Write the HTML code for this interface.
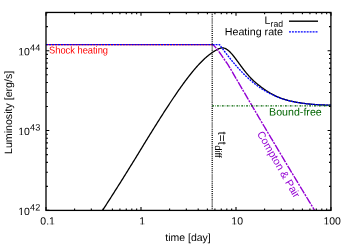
<!DOCTYPE html>
<html><head><meta charset="utf-8"><title>plot</title>
<style>
html,body{margin:0;padding:0;background:#fff;}
svg{display:block;will-change:transform;}
text{font-family:"Liberation Sans",sans-serif;fill:#000;text-rendering:geometricPrecision;}
</style></head><body>
<svg width="350" height="245" viewBox="0 0 350 245">
<rect x="0" y="0" width="350" height="245" fill="#fff"/>
<!-- curves -->
<path d="M102.56,210.40 L103.00,209.66 L103.50,208.89 L104.00,208.12 L104.50,207.34 L105.00,206.57 L105.50,205.80 L106.00,205.03 L106.50,204.25 L107.00,203.48 L107.50,202.71 L108.00,201.94 L108.50,201.17 L109.00,200.39 L109.50,199.62 L110.00,198.85 L110.50,198.06 L111.00,197.27 L111.50,196.48 L112.00,195.69 L112.50,194.90 L113.00,194.11 L113.50,193.32 L114.00,192.53 L114.50,191.75 L115.00,190.96 L115.50,190.17 L116.00,189.38 L116.50,188.59 L117.00,187.80 L117.50,187.02 L118.00,186.23 L118.50,185.44 L119.00,184.65 L119.50,183.86 L120.00,183.08 L120.50,182.29 L121.00,181.50 L121.50,180.72 L122.00,179.93 L122.50,179.12 L123.00,178.31 L123.50,177.50 L124.00,176.70 L124.50,175.89 L125.00,175.08 L125.50,174.27 L126.00,173.47 L126.50,172.66 L127.00,171.85 L127.50,171.05 L128.00,170.24 L128.50,169.43 L129.00,168.63 L129.50,167.82 L130.00,167.02 L130.50,166.21 L131.00,165.41 L131.50,164.60 L132.00,163.80 L132.50,162.99 L133.00,162.19 L133.50,161.39 L134.00,160.59 L134.50,159.78 L135.00,158.98 L135.50,158.16 L136.00,157.33 L136.50,156.51 L137.00,155.69 L137.50,154.86 L138.00,154.04 L138.50,153.22 L139.00,152.40 L139.50,151.58 L140.00,150.75 L140.50,149.93 L141.00,149.12 L141.50,148.30 L142.00,147.48 L142.50,146.66 L143.00,145.84 L143.50,145.02 L144.00,144.21 L144.50,143.39 L145.00,142.58 L145.50,141.76 L146.00,140.95 L146.50,140.13 L147.00,139.32 L147.50,138.51 L148.00,137.70 L148.50,136.89 L149.00,136.08 L149.50,135.27 L150.00,134.46 L150.50,133.65 L151.00,132.84 L151.50,132.04 L152.00,131.23 L152.50,130.43 L153.00,129.63 L153.50,128.82 L154.00,128.02 L154.50,127.22 L155.00,126.42 L155.50,125.62 L156.00,124.82 L156.50,124.03 L157.00,123.23 L157.50,122.44 L158.00,121.64 L158.50,120.85 L159.00,120.06 L159.50,119.27 L160.00,118.48 L160.50,117.69 L161.00,116.91 L161.50,116.12 L162.00,115.34 L162.50,114.55 L163.00,113.77 L163.50,112.99 L164.00,112.21 L164.50,111.44 L165.00,110.66 L165.50,109.89 L166.00,109.12 L166.50,108.35 L167.00,107.58 L167.50,106.81 L168.00,106.05 L168.50,105.28 L169.00,104.52 L169.50,103.76 L170.00,103.00 L170.50,102.25 L171.00,101.49 L171.50,100.74 L172.00,99.99 L172.50,99.24 L173.00,98.50 L173.50,97.75 L174.00,97.01 L174.50,96.27 L175.00,95.54 L175.50,94.80 L176.00,94.07 L176.50,93.34 L177.00,92.62 L177.50,91.90 L178.00,91.17 L178.50,90.46 L179.00,89.74 L179.50,89.03 L180.00,88.32 L180.50,87.61 L181.00,86.91 L181.50,86.21 L182.00,85.51 L182.50,84.82 L183.00,84.13 L183.50,83.44 L184.00,82.76 L184.50,82.08 L185.00,81.40 L185.50,80.73 L186.00,80.06 L186.50,79.40 L187.00,78.74 L187.50,78.08 L188.00,77.43 L188.50,76.78 L189.00,76.14 L189.50,75.50 L190.00,74.86 L190.50,74.23 L191.00,73.61 L191.50,72.99 L192.00,72.37 L192.50,71.76 L193.00,71.15 L193.50,70.55 L194.00,69.95 L194.50,69.36 L195.00,68.78 L195.50,68.20 L196.00,67.62 L196.50,67.05 L197.00,66.49 L197.50,65.93 L198.00,65.38 L198.50,64.83 L199.00,64.29 L199.50,63.76 L200.00,63.23 L200.50,62.71 L201.00,62.20 L201.50,61.69 L202.00,61.19 L202.50,60.70 L203.00,60.21 L203.50,59.73 L204.00,59.26 L204.50,58.79 L205.00,58.33 L205.50,57.88 L206.00,57.44 L206.50,57.00 L207.00,56.57 L207.50,56.15 L208.00,55.74 L208.50,55.33 L209.00,54.94 L209.50,54.55 L210.00,54.16 L210.50,53.79 L211.00,53.43 L211.50,53.07 L212.00,52.72 L212.50,52.38 L213.00,52.05 L213.50,51.72 L214.00,51.41 L214.50,51.10 L215.00,50.80 L215.50,50.51 L216.00,50.23 L216.50,49.95 L217.00,49.69 L217.50,49.43 L218.00,49.18 L218.50,48.94 L219.00,48.71 L219.50,48.48 L220.00,48.28 L220.50,48.11 L221.00,47.99 L221.50,47.91 L222.00,47.87 L222.50,47.88 L223.00,47.93 L223.50,48.00 L224.00,48.10 L224.50,48.25 L225.00,48.43 L225.50,48.64 L226.00,48.88 L226.50,49.17 L227.00,49.50 L227.50,49.85 L228.00,50.22 L228.50,50.63 L229.00,51.06 L229.50,51.53 L230.00,52.02 L230.50,52.53 L231.00,53.07 L231.50,53.62 L232.00,54.19 L232.50,54.78 L233.00,55.38 L233.50,56.00 L234.00,56.62 L234.50,57.26 L235.00,57.91 L235.50,58.57 L236.00,59.24 L236.50,59.91 L237.00,60.59 L237.50,61.28 L238.00,61.96 L238.50,62.65 L239.00,63.34 L239.50,64.03 L240.00,64.71 L240.50,65.40 L241.00,66.08 L241.50,66.76 L242.00,67.43 L242.50,68.10 L243.00,68.76 L243.50,69.41 L244.00,70.06 L244.50,70.70 L245.00,71.34 L245.50,71.96 L246.00,72.58 L246.50,73.18 L247.00,73.78 L247.50,74.37 L248.00,74.95 L248.50,75.52 L249.00,76.09 L249.50,76.64 L250.00,77.18 L250.50,77.72 L251.00,78.25 L251.50,78.77 L252.00,79.27 L252.50,79.76 L253.00,80.24 L253.50,80.71 L254.00,81.17 L254.50,81.63 L255.00,82.07 L255.50,82.51 L256.00,82.94 L256.50,83.36 L257.00,83.78 L257.50,84.19 L258.00,84.59 L258.50,84.98 L259.00,85.37 L259.50,85.75 L260.00,86.13 L260.50,86.52 L261.00,86.91 L261.50,87.29 L262.00,87.67 L262.50,88.04 L263.00,88.40 L263.50,88.76 L264.00,89.11 L264.50,89.46 L265.00,89.80 L265.50,90.13 L266.00,90.46 L266.50,90.79 L267.00,91.10 L267.50,91.42 L268.00,91.72 L268.50,92.03 L269.00,92.34 L269.50,92.64 L270.00,92.94 L270.50,93.23 L271.00,93.51 L271.50,93.79 L272.00,94.07 L272.50,94.34 L273.00,94.61 L273.50,94.87 L274.00,95.13 L274.50,95.38 L275.00,95.62 L275.50,95.87 L276.00,96.10 L276.50,96.34 L277.00,96.56 L277.50,96.79 L278.00,97.01 L278.50,97.23 L279.00,97.44 L279.50,97.65 L280.00,97.85 L280.50,98.06 L281.00,98.26 L281.50,98.43 L282.00,98.60 L282.50,98.76 L283.00,98.93 L283.50,99.09 L284.00,99.24 L284.50,99.40 L285.00,99.55 L285.50,99.69 L286.00,99.84 L286.50,99.98 L287.00,100.12 L287.50,100.25 L288.00,100.39 L288.50,100.52 L289.00,100.64 L289.50,100.77 L290.00,100.89 L290.50,101.01 L291.00,101.12 L291.50,101.24 L292.00,101.35 L292.50,101.46 L293.00,101.57 L293.50,101.67 L294.00,101.77 L294.50,101.87 L295.00,101.97 L295.50,102.07 L296.00,102.16 L296.50,102.25 L297.00,102.34 L297.50,102.43 L298.00,102.52 L298.50,102.60 L299.00,102.68 L299.50,102.76 L300.00,102.84 L300.50,102.92 L301.00,102.99 L301.50,103.07 L302.00,103.14 L302.50,103.21 L303.00,103.28 L303.50,103.35 L304.00,103.41 L304.50,103.48 L305.00,103.54 L305.50,103.60 L306.00,103.66 L306.50,103.72 L307.00,103.78 L307.50,103.83 L308.00,103.89 L308.50,103.94 L309.00,103.99 L309.50,104.04 L310.00,104.09 L310.50,104.14 L311.00,104.19 L311.50,104.24 L312.00,104.28 L312.50,104.33 L313.00,104.37 L313.50,104.41 L314.00,104.46 L314.50,104.50 L315.00,104.54 L315.50,104.57 L316.00,104.60 L316.50,104.63 L317.00,104.66 L317.50,104.69 L318.00,104.72 L318.50,104.75 L319.00,104.77 L319.50,104.80 L320.00,104.82 L320.50,104.85 L321.00,104.87 L321.50,104.90 L322.00,104.92 L322.50,104.94 L323.00,104.96 L323.50,104.98 L324.00,105.00 L324.50,105.02 L325.00,105.04 L325.50,105.06 L326.00,105.07 L326.50,105.09 L327.00,105.11 L327.50,105.12 L328.00,105.14 L328.50,105.15 L329.00,105.17 L329.50,105.18 L330.00,105.20 L330.50,105.21 L331.00,105.22" fill="none" stroke="#000" stroke-width="1.3" stroke-linejoin="round"/>
<path d="M46.0,44.7 H213" fill="none" stroke="#f00" stroke-width="1.3"/>
<path d="M213.10,44.70 L214.10,45.79 L215.10,46.88 L216.10,48.00 L217.10,49.22 L218.10,50.51 L219.10,51.86 L220.10,53.24 L221.10,54.66 L222.10,56.13 L223.10,57.62 L224.10,59.09 L225.10,60.55 L226.10,62.01 L227.10,63.48 L228.10,64.98 L229.10,66.52 L230.10,68.14 L231.10,69.82 L232.10,71.54 L233.10,73.29 L234.10,75.05 L235.10,76.81 L236.10,78.54 L237.10,80.26 L238.10,81.97 L239.10,83.69 L240.10,85.40 L241.10,87.11 L242.10,88.83 L243.10,90.54 L244.10,92.25 L245.10,93.96 L246.10,95.66 L247.10,97.37 L248.10,99.08 L249.10,100.78 L250.10,102.49 L251.10,104.19 L252.10,105.89 L253.10,107.59 L254.10,109.29 L255.10,110.99 L256.10,112.69 L257.10,114.39 L258.10,116.09 L259.10,117.78 L260.10,119.48 L261.10,121.17 L262.10,122.86 L263.10,124.55 L264.10,126.24 L265.10,127.93 L266.10,129.62 L267.10,131.31 L268.10,133.00 L269.10,134.68 L270.10,136.37 L271.10,138.05 L272.10,139.73 L273.10,141.41 L274.10,143.09 L275.10,144.77 L276.10,146.45 L277.10,148.13 L278.10,149.81 L279.10,151.48 L280.10,153.16 L281.10,154.83 L282.10,156.51 L283.10,158.18 L284.10,159.85 L285.10,161.52 L286.10,163.19 L287.10,164.86 L288.10,166.52 L289.10,168.19 L290.10,169.85 L291.10,171.52 L292.10,173.18 L293.10,174.84 L294.10,176.50 L295.10,178.16 L296.10,179.82 L297.10,181.48 L298.10,183.14 L299.10,184.80 L300.10,186.45 L301.10,188.10 L302.10,189.76 L303.10,191.41 L304.10,193.06 L305.10,194.71 L306.10,196.35 L307.10,198.00 L308.10,199.64 L309.10,201.29 L310.10,202.94 L311.10,204.58 L312.10,206.23 L313.10,207.87 L314.10,209.52 L314.70,210.51" fill="none" stroke="#9400d3" stroke-width="1.4" stroke-dasharray="7.9 1 2.1 1.14" stroke-dashoffset="3.30" stroke-linejoin="round"/>
<path d="M46.0,44.7 H212.6" fill="none" stroke="#00f" stroke-width="1.3" stroke-dasharray="2.15 0.8"/>
<path d="M212.60,44.70 L219.00,44.70 L219.50,44.70 L220.00,45.25 L220.50,45.94 L221.00,46.63 L221.50,47.31 L222.00,47.99 L222.50,48.66 L223.00,49.34 L223.50,50.01 L224.00,50.67 L224.50,51.34 L225.00,52.00 L225.50,52.65 L226.00,53.31 L226.50,53.96 L227.00,54.60 L227.50,55.25 L228.00,55.89 L228.50,56.52 L229.00,57.16 L229.50,57.78 L230.00,58.41 L230.50,59.03 L231.00,59.65 L231.50,60.26 L232.00,60.87 L232.50,61.47 L233.00,62.07 L233.50,62.67 L234.00,63.26 L234.50,63.85 L235.00,64.44 L235.50,65.02 L236.00,65.59 L236.50,66.17 L237.00,66.73 L237.50,67.30 L238.00,67.85 L238.50,68.41 L239.00,68.96 L239.50,69.50 L240.00,70.04 L240.50,70.58 L241.00,71.11 L241.50,71.64 L242.00,72.16 L242.50,72.68 L243.00,73.19 L243.50,73.69 L244.00,74.20 L244.50,74.70 L245.00,75.19 L245.50,75.68 L246.00,76.16 L246.50,76.64 L247.00,77.11 L247.50,77.58 L248.00,78.04 L248.50,78.50 L249.00,78.96 L249.50,79.40 L250.00,79.85 L250.50,80.29 L251.00,80.72 L251.50,81.15 L252.00,81.57 L252.50,81.99 L253.00,82.40 L253.50,82.81 L254.00,83.22 L254.50,83.61 L255.00,84.01 L255.50,84.40 L256.00,84.78 L256.50,85.16 L257.00,85.53 L257.50,85.90 L258.00,86.26 L258.50,86.62 L259.00,86.98 L259.50,87.32 L260.00,87.67 L260.50,88.01 L261.00,88.34 L261.50,88.67 L262.00,88.99 L262.50,89.31 L263.00,89.63 L263.50,89.94 L264.00,90.25 L264.50,90.55 L265.00,90.84 L265.50,91.13 L266.00,91.42 L266.50,91.70 L267.00,91.98 L267.50,92.26 L268.00,92.53 L268.50,92.79 L269.00,93.05 L269.50,93.31 L270.00,93.56 L270.50,93.81 L271.00,94.05 L271.50,94.29 L272.00,94.53 L272.50,94.76 L273.00,94.99 L273.50,95.21 L274.00,95.43 L274.50,95.67 L275.00,95.90 L275.50,96.13 L276.00,96.35 L276.50,96.58 L277.00,96.80 L277.50,97.01 L278.00,97.22 L278.50,97.43 L279.00,97.63 L279.50,97.83 L280.00,98.03 L280.50,98.23 L281.00,98.42 L281.50,98.58 L282.00,98.75 L282.50,98.91 L283.00,99.06 L283.50,99.22 L284.00,99.37 L284.50,99.52 L285.00,99.66 L285.50,99.80 L286.00,99.94 L286.50,100.08 L287.00,100.21 L287.50,100.34 L288.00,100.47 L288.50,100.60 L289.00,100.72 L289.50,100.84 L290.00,100.96 L290.50,101.08 L291.00,101.19 L291.50,101.30 L292.00,101.41 L292.50,101.52 L293.00,101.62 L293.50,101.72 L294.00,101.82 L294.50,101.92 L295.00,102.02 L295.50,102.11 L296.00,102.20 L296.50,102.29 L297.00,102.38 L297.50,102.47 L298.00,102.55 L298.50,102.63 L299.00,102.71 L299.50,102.79 L300.00,102.87 L300.50,102.95 L301.00,103.02 L301.50,103.09 L302.00,103.16 L302.50,103.23 L303.00,103.30 L303.50,103.37 L304.00,103.43 L304.50,103.49 L305.00,103.56 L305.50,103.62 L306.00,103.68 L306.50,103.73 L307.00,103.79 L307.50,103.85 L308.00,103.90 L308.50,103.95 L309.00,104.01 L309.50,104.06 L310.00,104.11 L310.50,104.15 L311.00,104.20 L311.50,104.25 L312.00,104.29 L312.50,104.34 L313.00,104.38 L313.50,104.42 L314.00,104.46 L314.50,104.50 L315.00,104.54 L315.50,104.58 L316.00,104.61 L316.50,104.64 L317.00,104.67 L317.50,104.70 L318.00,104.72 L318.50,104.75 L319.00,104.78 L319.50,104.80 L320.00,104.83 L320.50,104.85 L321.00,104.88 L321.50,104.90 L322.00,104.92 L322.50,104.94 L323.00,104.96 L323.50,104.98 L324.00,105.00 L324.50,105.02 L325.00,105.04 L325.50,105.06 L326.00,105.08 L326.50,105.09 L327.00,105.11 L327.50,105.13 L328.00,105.14 L328.50,105.16 L329.00,105.17 L329.50,105.18 L330.00,105.20 L330.50,105.21 L331.00,105.22" fill="none" stroke="#00f" stroke-width="1.3" stroke-dasharray="1.95 1.0" stroke-linejoin="round"/>
<path d="M212.2,105.9 H330.9" fill="none" stroke="#006400" stroke-width="1.4" stroke-dasharray="1.8 1 0.6 1.45"/>
<path d="M212.2,12.45 V210.4" fill="none" stroke="#000" stroke-width="1.25" stroke-dasharray="1.05 1.03" stroke-dashoffset="0.3"/>
<!-- frame -->
<rect x="46.0" y="12.45" width="284.9" height="197.95000000000002" fill="none" stroke="#000" stroke-width="1.3"/>
<path d="M46.00,210.4v-3.3 M46.00,12.45v3.3 M74.60,210.4v-1.9 M74.60,12.45v1.9 M91.33,210.4v-1.9 M91.33,12.45v1.9 M103.20,210.4v-1.9 M103.20,12.45v1.9 M112.40,210.4v-1.9 M112.40,12.45v1.9 M119.92,210.4v-1.9 M119.92,12.45v1.9 M126.28,210.4v-1.9 M126.28,12.45v1.9 M131.79,210.4v-1.9 M131.79,12.45v1.9 M136.65,210.4v-1.9 M136.65,12.45v1.9 M141.00,210.4v-3.3 M141.00,12.45v3.3 M169.60,210.4v-1.9 M169.60,12.45v1.9 M186.33,210.4v-1.9 M186.33,12.45v1.9 M198.20,210.4v-1.9 M198.20,12.45v1.9 M207.40,210.4v-1.9 M207.40,12.45v1.9 M214.92,210.4v-1.9 M214.92,12.45v1.9 M221.28,210.4v-1.9 M221.28,12.45v1.9 M226.79,210.4v-1.9 M226.79,12.45v1.9 M231.65,210.4v-1.9 M231.65,12.45v1.9 M236.00,210.4v-3.3 M236.00,12.45v3.3 M264.60,210.4v-1.9 M264.60,12.45v1.9 M281.33,210.4v-1.9 M281.33,12.45v1.9 M293.20,210.4v-1.9 M293.20,12.45v1.9 M302.40,210.4v-1.9 M302.40,12.45v1.9 M309.92,210.4v-1.9 M309.92,12.45v1.9 M316.28,210.4v-1.9 M316.28,12.45v1.9 M321.79,210.4v-1.9 M321.79,12.45v1.9 M326.65,210.4v-1.9 M326.65,12.45v1.9 M331.00,210.4v-3.3 M331.00,12.45v3.3 M46.0,210.40h3.3 M330.9,210.40h-3.3 M46.0,186.36h1.9 M330.9,186.36h-1.9 M46.0,172.30h1.9 M330.9,172.30h-1.9 M46.0,162.33h1.9 M330.9,162.33h-1.9 M46.0,154.59h1.9 M330.9,154.59h-1.9 M46.0,148.26h1.9 M330.9,148.26h-1.9 M46.0,142.92h1.9 M330.9,142.92h-1.9 M46.0,138.29h1.9 M330.9,138.29h-1.9 M46.0,134.20h1.9 M330.9,134.20h-1.9 M46.0,130.55h3.3 M330.9,130.55h-3.3 M46.0,106.51h1.9 M330.9,106.51h-1.9 M46.0,92.45h1.9 M330.9,92.45h-1.9 M46.0,82.48h1.9 M330.9,82.48h-1.9 M46.0,74.74h1.9 M330.9,74.74h-1.9 M46.0,68.41h1.9 M330.9,68.41h-1.9 M46.0,63.07h1.9 M330.9,63.07h-1.9 M46.0,58.44h1.9 M330.9,58.44h-1.9 M46.0,54.35h1.9 M330.9,54.35h-1.9 M46.0,50.70h3.3 M330.9,50.70h-3.3 M46.0,26.66h1.9 M330.9,26.66h-1.9 M46.0,12.60h1.9 M330.9,12.60h-1.9" fill="none" stroke="#000" stroke-width="1.1"/>
<!-- legend -->
<path d="M289,21.2 H318" stroke="#000" stroke-width="1.4"/>
<path d="M289,31.9 H318" stroke="#00f" stroke-width="1.3" stroke-dasharray="1.95 1.0"/>
<text transform="translate(270.40,23.70) rotate(0.05)" font-size="10.5" text-anchor="end">L</text>
<text transform="translate(270.60,26.75) rotate(0.05)" font-size="8.7">rad</text>
<text transform="translate(283.00,35.20) rotate(0.05)" font-size="10.5" text-anchor="end" textLength="58.3" lengthAdjust="spacingAndGlyphs">Heating rate</text>
<!-- labels -->
<text transform="translate(49.00,53.40) rotate(0.05)" font-size="10" style="fill:#f00" textLength="59" lengthAdjust="spacingAndGlyphs">Shock heating</text>
<text transform="translate(269.10,115.50) rotate(0.05)" font-size="10.65" style="fill:#006400">Bound-free</text>
<text transform="translate(256.80,133.70) rotate(60)" font-size="10.63" style="fill:#9400d3">Compton &amp; Pair</text>
<text transform="translate(218.20,131.50) rotate(90.05)" font-size="11.5">t=t</text>
<text transform="translate(215.10,145.20) rotate(90.05)" font-size="9.5">diff</text>
<!-- axis labels -->
<g transform="translate(29.90,55.20) rotate(0.05)"><text font-size="10.5" text-anchor="end">10</text><rect x="-11.47" y="-0.90" width="2.32" height="1.03" fill="#fff"/><rect x="-7.99" y="-0.90" width="2.38" height="1.03" fill="#fff"/></g><text transform="translate(30.10,50.75) rotate(0.05)" font-size="9.1">44</text>
<g transform="translate(29.90,135.05) rotate(0.05)"><text font-size="10.5" text-anchor="end">10</text><rect x="-11.47" y="-0.90" width="2.32" height="1.03" fill="#fff"/><rect x="-7.99" y="-0.90" width="2.38" height="1.03" fill="#fff"/></g><text transform="translate(30.10,130.60) rotate(0.05)" font-size="9.1">43</text>
<g transform="translate(29.90,214.90) rotate(0.05)"><text font-size="10.5" text-anchor="end">10</text><rect x="-11.47" y="-0.90" width="2.32" height="1.03" fill="#fff"/><rect x="-7.99" y="-0.90" width="2.38" height="1.03" fill="#fff"/></g><text transform="translate(30.10,210.45) rotate(0.05)" font-size="9.1">42</text>
<g transform="translate(47.60,224.55) rotate(0.05)"><text font-size="10.5" text-anchor="middle">0.1</text><rect x="1.67" y="-0.90" width="2.32" height="1.03" fill="#fff"/><rect x="5.15" y="-0.90" width="2.38" height="1.03" fill="#fff"/></g>
<g transform="translate(142.10,224.55) rotate(0.05)"><text font-size="10.5" text-anchor="middle">1</text><rect x="-2.71" y="-0.90" width="2.32" height="1.03" fill="#fff"/><rect x="0.77" y="-0.90" width="2.38" height="1.03" fill="#fff"/></g>
<g transform="translate(237.20,224.55) rotate(0.05)"><text font-size="10.5" text-anchor="middle">10</text><rect x="-5.63" y="-0.90" width="2.32" height="1.03" fill="#fff"/><rect x="-2.15" y="-0.90" width="2.38" height="1.03" fill="#fff"/></g>
<g transform="translate(332.20,224.55) rotate(0.05)"><text font-size="10.5" text-anchor="middle">100</text><rect x="-8.55" y="-0.90" width="2.32" height="1.03" fill="#fff"/><rect x="-5.07" y="-0.90" width="2.38" height="1.03" fill="#fff"/></g>
<text transform="translate(188.00,241.10) rotate(0.05)" font-size="10.5" text-anchor="middle">time [day]</text>
<text transform="translate(12.40,112.40) rotate(-90)" font-size="10.62" text-anchor="middle">Luminosity [erg/s]</text>
</svg>
</body></html>
